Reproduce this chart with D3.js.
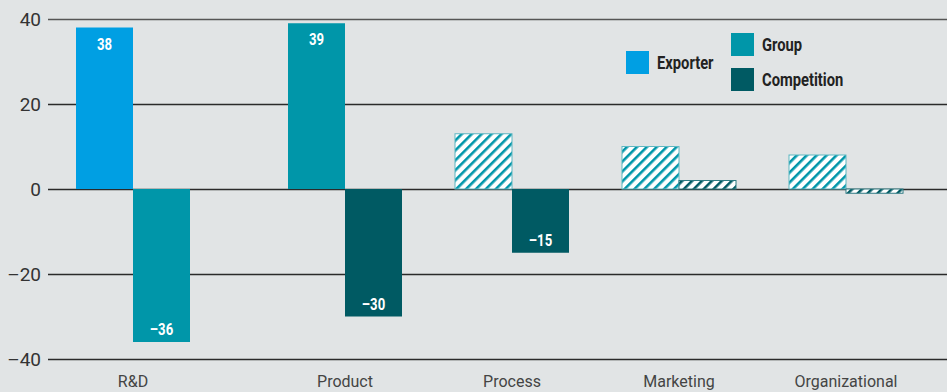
<!DOCTYPE html>
<html><head><meta charset="utf-8">
<script src="https://cdn.jsdelivr.net/npm/d3@7"></script>
<style>
html,body{margin:0;padding:0;background:#e1e4e5;}
svg{display:block;}
</style></head>
<body>
<svg id="chart" width="947" height="392"></svg>
<script>
const categories = ["R&D", "Product", "Process", "Marketing", "Organizational"];
// first bar of each pair
const firstSeries = ["Exporter", "Group", "Group", "Group", "Group"];
const firstValues = [38, 39, 13, 10, 8];
const firstHatched = [false, false, true, true, true];
// second bar of each pair
const secondSeries = ["Group", "Competition", "Competition", "Competition", "Competition"];
const secondValues = [-36, -30, -15, 2, -1];
const secondHatched = [false, false, false, true, true];
const yTicks = [40, 20, 0, -20, -40];
const legendItems = ["Exporter", "Group", "Competition"];

const colors = {Exporter: "#009fe3", Group: "#0096a9", Competition: "#005a63"};

const svg = d3.select("#chart");
const W = 947, H = 392;
const y = d3.scaleLinear().domain([-40, 40]).range([359, 19]);
// category centres (uneven spacing as in original)
const x = d3.scaleOrdinal().domain(categories).range([133, 345, 512, 679, 846]);
const barW = 57;
const condFont = "Roboto, 'DejaVu Sans', sans-serif";
const squeeze = 0.82;

svg.append("rect").attr("width", W).attr("height", H).attr("fill", "#e1e4e5");

// patterns
const defs = svg.append("defs");
function makePattern(id, color) {
  const p = defs.append("pattern").attr("id", id).attr("patternUnits", "userSpaceOnUse")
    .attr("width", 7).attr("height", 7).attr("patternTransform", "rotate(45)");
  p.append("rect").attr("width", 7).attr("height", 7).attr("fill", "#ffffff");
  p.append("rect").attr("x", 0).attr("y", 0).attr("width", 2.6).attr("height", 7).attr("fill", color);
}
makePattern("hatch-Group", colors.Group);
makePattern("hatch-Competition", colors.Competition);

// y axis labels
const yAxis = d3.axisLeft(y).tickValues(yTicks).tickSize(0).tickPadding(0)
  .tickFormat(d => d < 0 ? "\u2013" + Math.abs(d) : d);
const gAxis = svg.append("g").attr("transform", "translate(41,0)").call(yAxis);
gAxis.select(".domain").remove();
gAxis.selectAll("text").attr("font-family", "Roboto, 'Open Sans', sans-serif").attr("font-size", 19)
  .attr("fill", "#333").attr("dy", "0.35em");

// gridlines
svg.append("g").selectAll("line").data(yTicks).join("line")
  .attr("x1", 48).attr("x2", W).attr("y1", d => Math.round(y(d)) + 0.5).attr("y2", d => Math.round(y(d)) + 0.5)
  .attr("stroke", d => d === 40 ? "#555" : "#2a2a2a").attr("stroke-width", 1.5);

// bars
function drawBars(values, series, hatched, offset) {
  const data = categories.map((c, i) => ({c, v: values[i], s: series[i], h: hatched[i]}));
  const g = svg.append("g");
  g.selectAll("rect").data(data).join("rect")
    .attr("x", d => x(d.c) + offset)
    .attr("y", d => y(Math.max(0, d.v)))
    .attr("width", barW)
    .attr("height", d => Math.abs(y(d.v) - y(0)))
    .attr("fill", d => d.h ? `url(#hatch-${d.s})` : colors[d.s])
    .attr("stroke", d => d.h ? (d.s === "Group" ? "#5fb7c2" : "#2e7a82") : "none")
    .attr("stroke-width", d => d.h ? 1 : 0);
  g.selectAll("text").data(data.filter(d => !d.h)).join("text")
    .attr("transform", d => `translate(${x(d.c) + offset + barW / 2},${d.v > 0 ? y(d.v) + 22 : y(d.v) - 7}) scale(${squeeze},1)`)
    .attr("text-anchor", "middle")
    .attr("font-family", condFont)
    .attr("font-weight", "bold").attr("font-size", 16).attr("fill", "#fff")
    .text(d => d.v < 0 ? "\u2013" + Math.abs(d.v) : d.v);
}
drawBars(firstValues, firstSeries, firstHatched, -barW);
drawBars(secondValues, secondSeries, secondHatched, 0);

// category labels
svg.append("g").selectAll("text").data(categories).join("text")
  .attr("x", d => x(d)).attr("y", 387).attr("text-anchor", "middle")
  .attr("font-family", "Roboto, 'Open Sans', sans-serif").attr("font-size", 16).attr("fill", "#444")
  .text(d => d);

// legend
const legendPos = {Exporter: [626, 51], Group: [731, 33], Competition: [731, 68]};
const lg = svg.append("g");
legendItems.forEach(s => {
  const [lx, ly] = legendPos[s];
  lg.append("rect").attr("x", lx).attr("y", ly).attr("width", 23).attr("height", 23).attr("fill", colors[s]);
  lg.append("text").attr("transform", `translate(${lx + 31},${ly + 12}) scale(${squeeze},1)`).attr("dy", "0.35em")
    .attr("font-family", condFont)
    .attr("font-weight", "bold").attr("font-size", 18).attr("fill", "#222").text(s);
});
</script>
</body></html>
